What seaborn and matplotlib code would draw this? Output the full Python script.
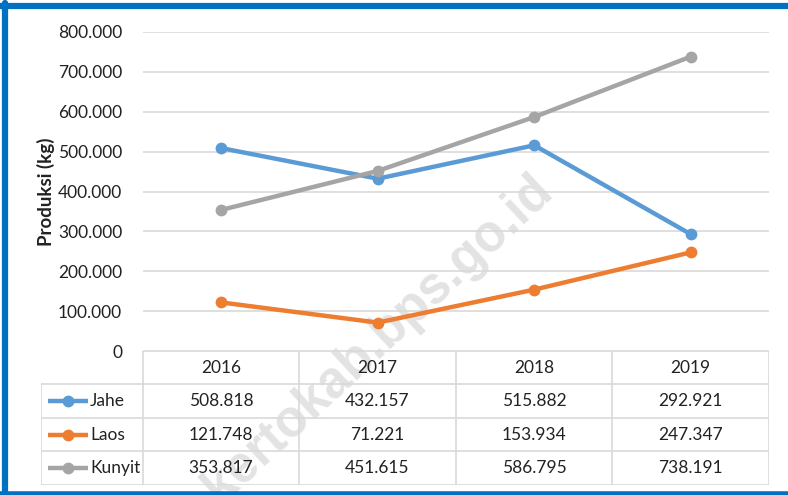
import numpy as np
import pandas as pd
import matplotlib
matplotlib.use("Agg")
import matplotlib.pyplot as plt
import seaborn as sns

# data
years = ["2016", "2017", "2018", "2019"]
jahe = [508818, 432157, 515882, 292921]
laos = [121748, 71221, 153934, 247347]
kunyit = [353817, 451615, 586795, 738191]
series_names = ["Jahe", "Laos", "Kunyit"]
colors = ["#5B9BD5", "#ED7D31", "#A5A5A5"]
yticks = [0, 100000, 200000, 300000, 400000, 500000, 600000, 700000, 800000]


def fmt(v):
    return f"{v:,}".replace(",", ".")


sns.set_style("white")
plt.rcParams["font.family"] = ["Lato", "DejaVu Sans"]

W, H = 788, 495
fig = plt.figure(figsize=(W / 100, H / 100), dpi=100)
fig.patch.set_facecolor("white")


def box(x0, y0, x1, y1):
    # pixel box (top-left origin) -> figure fraction
    return [x0 / W, 1 - y1 / H, (x1 - x0) / W, (y1 - y0) / H]


# watermark sits under everything
fig.text(546 / W, 1 - 183 / H, "mojokertokab.bps.go.id", rotation=43,
         rotation_mode="anchor", ha="right", va="center", fontsize=37,
         fontweight="bold", family="Liberation Sans", color="#E3E3E3", zorder=-1)

# main line chart
ax = fig.add_axes(box(143, 32, 769, 351))
df = pd.DataFrame({
    "pos": list(range(len(years))) * 3,
    "val": jahe + laos + kunyit,
    "seri": [n for n in series_names for _ in years],
})
sns.lineplot(data=df, x="pos", y="val", hue="seri", palette=colors,
             marker="o", markersize=8.5, markeredgewidth=0, linewidth=3.2,
             legend=False, ax=ax, zorder=3)
ax.set_xlim(-0.5, len(years) - 0.5)
ax.set_ylim(0, 800000)
ax.set_yticks(yticks)
ax.set_yticklabels([fmt(t) if t else "0" for t in yticks], fontsize=12.5, color="#222222")
ax.tick_params(axis="y", length=0, pad=15)
ax.set_xticks([])
ax.set_xlabel("")
ax.set_ylabel("")
ax.grid(axis="y", color="#D9D9D9", linewidth=1.2)
for s in ax.spines.values():
    s.set_visible(False)
ax.patch.set_alpha(0)

fig.text(46 / W, 1 - 192 / H, "Produksi (kg)", rotation=90, ha="center", va="center",
         fontsize=13.5, fontweight="bold", color="#222222")

# data table below
tb = fig.add_axes(box(41, 351, 769, 485))
tb.set_xlim(41, 769)
tb.set_ylim(485, 351)
tb.axis("off")
col_edges = [143, 299, 456, 612, 769]
row_edges = [351, 384, 418, 451, 485]
lc = "#D9D9D9"
for x in col_edges:
    tb.plot([x, x], [351, 485], color=lc, lw=1.2)
tb.plot([41, 41], [384, 485], color=lc, lw=1.2)
tb.plot([143, 769], [351, 351], color=lc, lw=1.2)
for y in row_edges[1:]:
    tb.plot([41, 769], [y, y], color=lc, lw=1.2)

for i, yr in enumerate(years):
    cx = (col_edges[i] + col_edges[i + 1]) / 2
    tb.text(cx, 368, yr, ha="center", va="center", fontsize=12.5, color="#222222")

for r, (name, vals, c) in enumerate(zip(series_names, [jahe, laos, kunyit], colors)):
    cy = (row_edges[r + 1] + row_edges[r + 2]) / 2
    tb.plot([48, 88], [cy, cy], color=c, lw=3.2, solid_capstyle="butt")
    tb.plot([68], [cy], marker="o", color=c, markersize=8.5, markeredgewidth=0)
    tb.text(90, cy, name, ha="left", va="center", fontsize=12.5, color="#222222")
    for i, v in enumerate(vals):
        cx = (col_edges[i] + col_edges[i + 1]) / 2
        tb.text(cx, cy, fmt(v), ha="center", va="center", fontsize=12.5, color="#222222")

# blue frame (top, left, bottom)
frame = "#0070C0"
fig.add_artist(plt.Line2D([0, 1], [1 - 6 / H, 1 - 6 / H], color=frame, lw=4.5,
                          transform=fig.transFigure))
fig.add_artist(plt.Line2D([5 / W, 5 / W], [0, 1 - 3 / H], color=frame, lw=4.5,
                          transform=fig.transFigure))
fig.add_artist(plt.Line2D([0, 1], [1 / H, 1 / H], color=frame, lw=4,
                          transform=fig.transFigure))

fig.savefig("out.png", dpi=100)
